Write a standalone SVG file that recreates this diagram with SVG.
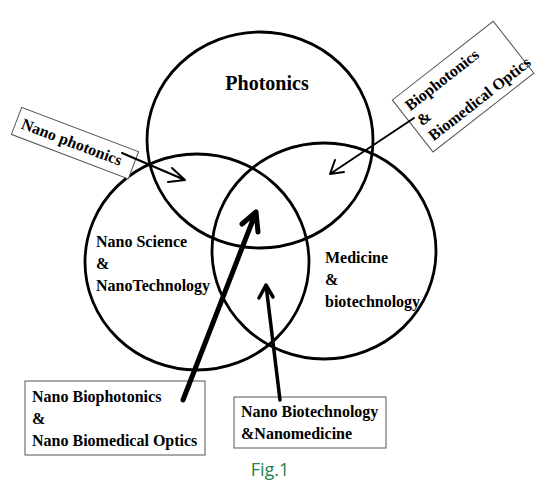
<svg xmlns="http://www.w3.org/2000/svg" width="536" height="489" viewBox="0 0 536 489">
<defs>
<style>
.c{fill:none;stroke:#000;stroke-width:2.8}
.t{font-family:"Liberation Serif","Times New Roman",serif;font-weight:bold;font-size:16px;fill:#000}
.b{fill:#fff;stroke:#555;stroke-width:1}
.a{fill:none;stroke:#000;stroke-linecap:round;stroke-linejoin:round}
</style>
</defs>
<rect width="536" height="489" fill="#fff"/>
<g id="photonics">
<ellipse class="c" cx="260" cy="140" rx="113" ry="108"/>
<text class="t" x="267" y="90" text-anchor="middle" style="font-size:20px">Photonics</text>
</g>
<g id="nanoscience">
<ellipse class="c" cx="197" cy="262" rx="112" ry="108"/>
<text class="t" x="96" y="247">Nano Science</text>
<text class="t" x="96" y="269">&amp;</text>
<text class="t" x="96" y="291">NanoTechnology</text>
</g>
<g id="medicine">
<ellipse class="c" cx="324" cy="251" rx="112" ry="108"/>
<text class="t" x="325" y="263">Medicine</text>
<text class="t" x="325" y="285">&amp;</text>
<text class="t" x="325" y="307">biotechnology</text>
</g>
<g id="nanophotonics">
<g transform="translate(21.7,107.3) rotate(20.8)">
<rect class="b" x="0" y="0" width="125" height="29"/>
<text class="t" x="6" y="20">Nano photonics</text>
</g>
</g>
<g id="biophotonics">
<g transform="translate(433,152) rotate(-38)">
<rect class="b" x="0" y="-66" width="128" height="66"/>
<text class="t" x="7" y="-46">Biophotonics</text>
<text class="t" x="7" y="-27">&amp;</text>
<text class="t" x="7" y="-8">Biomedical Optics</text>
</g>
</g>
<g id="nanobiophotonics">
<rect class="b" x="25" y="381" width="180" height="74"/>
<text class="t" x="32" y="402">Nano Biophotonics</text>
<text class="t" x="32" y="424">&amp;</text>
<text class="t" x="32" y="446">Nano Biomedical Optics</text>
</g>
<g id="nanobiotech">
<rect class="b" x="234" y="397" width="152" height="51"/>
<text class="t" x="241" y="417">Nano Biotechnology</text>
<text class="t" x="241" y="439">&amp;Nanomedicine</text>
</g>
<g id="connectors">
<path class="a" stroke-width="2" d="M122,153 L185,180 M172,168 L185,180 L168,182"/>
<path class="a" stroke-width="2" d="M414,118 L330,174 M335,160 L330,174 L344,172"/>
<path class="a" stroke-width="5" d="M183,400 L256,212 M242,224 L256,212 L258,232"/>
<path class="a" stroke-width="3.5" d="M280,400 L266,285 M259,298 L266,285 L273,297"/>
</g>
<text x="270" y="476" text-anchor="middle" font-family="'Open Sans','Liberation Sans',sans-serif" font-size="18" fill="#1e8449">Fig.1</text>
</svg>
